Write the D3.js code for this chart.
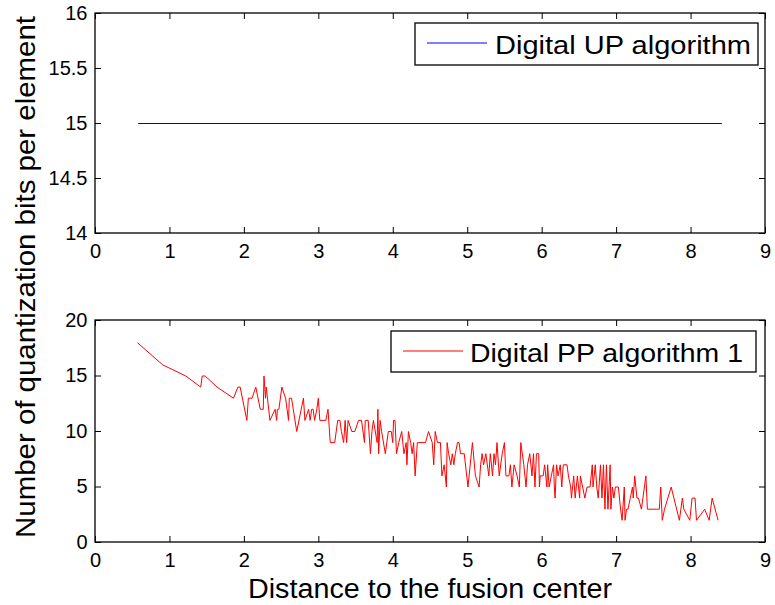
<!DOCTYPE html>
<html>
<head>
<meta charset="utf-8">
<script src="https://cdn.jsdelivr.net/npm/d3@7"></script>
<style>
  body { margin: 0; background: #fff; }
  svg text { font-family: "Liberation Sans", Arial, sans-serif; fill: #000; }
</style>
</head>
<body>
<div id="vis"></div>
<script>
'use strict'

// x ticks shared by both panels
const xTicks = [0, 1, 2, 3, 4, 5, 6, 7, 8, 9]
const upTicks = [14, 14.5, 15, 15.5, 16]
const ppTicks = [0, 5, 10, 15, 20]

// Digital UP algorithm: constant 15 bits
const upDist = [0.58, 8.42]
const upBits = [15, 15]

// Digital PP algorithm 1
const ppDist = [
  0.57, 0.91, 1.22, 1.42, 1.44, 1.48, 1.64, 1.86, 1.92, 1.95,
  2.04, 2.06, 2.11, 2.16, 2.22, 2.26, 2.27, 2.29, 2.30, 2.35,
  2.42, 2.44, 2.45, 2.47, 2.51, 2.56, 2.60, 2.61, 2.64, 2.71,
  2.80, 2.82, 2.87, 2.89, 2.91, 2.93, 2.95, 2.98, 3.00, 3.02,
  3.10, 3.13, 3.16, 3.22, 3.26, 3.29, 3.31, 3.34, 3.36, 3.38,
  3.40, 3.45, 3.49, 3.54, 3.58, 3.62, 3.63, 3.67, 3.70, 3.72,
  3.74, 3.79, 3.80, 3.81, 3.83, 3.85, 3.90, 3.94, 3.98, 4.00,
  4.01, 4.03, 4.05, 4.08, 4.12, 4.15, 4.18, 4.19, 4.21, 4.24,
  4.26, 4.28, 4.30, 4.33, 4.35, 4.44, 4.48, 4.53, 4.55, 4.57,
  4.60, 4.64, 4.66, 4.69, 4.72, 4.73, 4.75, 4.78, 4.80, 4.82,
  4.84, 4.87, 4.89, 4.91, 4.96, 5.01, 5.07, 5.11, 5.16, 5.18,
  5.20, 5.22, 5.25, 5.29, 5.31, 5.34, 5.36, 5.38, 5.40, 5.43,
  5.47, 5.50, 5.52, 5.56, 5.58, 5.60, 5.63, 5.67, 5.70, 5.72,
  5.76, 5.79, 5.81, 5.84, 5.87, 5.89, 5.91, 5.93, 5.96, 5.97,
  5.98, 6.02, 6.04, 6.07, 6.08, 6.10, 6.13, 6.16, 6.17, 6.18,
  6.20, 6.22, 6.25, 6.27, 6.29, 6.34, 6.36, 6.39, 6.40, 6.43,
  6.45, 6.48, 6.51, 6.52, 6.55, 6.58, 6.61, 6.65, 6.68, 6.69,
  6.72, 6.74, 6.76, 6.79, 6.81, 6.83, 6.85, 6.87, 6.89, 6.92,
  6.93, 6.95, 6.97, 6.99, 7.03, 7.06, 7.08, 7.11, 7.12, 7.14,
  7.16, 7.19, 7.22, 7.23, 7.25, 7.28, 7.30, 7.34, 7.40, 7.42,
  7.54, 7.58, 7.60, 7.62, 7.65, 7.74, 7.85, 7.89, 7.91, 7.99,
  8.02, 8.06, 8.08, 8.19, 8.25, 8.29, 8.37
]
const ppBits = [
  18, 16, 15, 14, 15, 15, 14, 13, 14, 14,
  11, 13, 13, 14, 12, 12, 15, 13, 14, 11,
  12, 11, 12, 12, 14, 13, 11, 13, 13, 10,
  13, 11, 12, 11, 12, 12, 11, 12, 13, 11,
  11, 12, 9, 9, 11, 11, 10, 9, 11, 9,
  11, 10, 10, 11, 11, 9, 11, 11, 8, 10,
  11, 9, 12, 8, 11, 10, 8, 10, 10, 9,
  11, 11, 8, 9, 10, 8, 9, 7, 10, 9,
  8, 9, 6, 9, 9, 9, 10, 9, 7, 10,
  9, 9, 6, 7, 5, 9, 8, 7, 8, 7,
  8, 9, 9, 8, 8, 5, 9, 6, 5, 7,
  8, 7, 8, 6, 8, 6, 8, 7, 9, 6,
  8, 9, 6, 6, 7, 5, 7, 6, 5, 9,
  7, 5, 7, 8, 6, 8, 5, 8, 8, 5,
  6, 6, 7, 5, 7, 5, 6, 7, 5, 4,
  7, 6, 7, 5, 7, 7, 6, 5, 4, 6,
  4, 6, 4, 6, 5, 4, 5, 5, 7, 5,
  7, 5, 4, 7, 4, 7, 3, 7, 3, 7,
  3, 5, 4, 5, 5, 3, 2, 5, 2, 3,
  3, 4, 5, 4, 6, 4, 4, 3, 6, 3,
  3, 3, 5, 2, 3, 5, 2, 4, 3, 2,
  4, 4, 2, 3, 2, 4, 2
]

const labels = {
  up: "Digital UP algorithm",
  pp: "Digital PP algorithm 1",
  xTitle: "Distance to the fusion center",
  yTitle: "Number of quantization bits per element"
}

function wrapper(){
  const width = 775
  const height = 605
  const left = 95, right = 765

  const svg = d3.select("#vis").append("svg")
    .attr("width", width)
    .attr("height", height)

  const x = d3.scaleLinear().domain([0, 9]).range([left, right])
  const fmt = d3.format("~g")

  function panel(top, bottom, yDomain, yTicks, dist, bits, color, lineColor, legend){
    const y = d3.scaleLinear().domain(yDomain).range([bottom, top])
    const g = svg.append("g")

    // data line first, so the frame sits on top
    const line = d3.line()
      .x((d, i) => x(dist[i]))
      .y(d => y(d))
    g.append("path")
      .datum(bits)
      .attr("transform", "translate(0,0.5)")
      .attr("fill", "none")
      .attr("stroke", lineColor)
      .attr("stroke-width", 1)
      .attr("d", line)

    const bottomAxis = g.append("g")
      .attr("transform", "translate(0," + bottom + ")")
      .call(d3.axisBottom(x).tickValues(xTicks).tickSize(-6).tickPadding(11).tickFormat(fmt))
    const topAxis = g.append("g")
      .attr("transform", "translate(0," + top + ")")
      .call(d3.axisTop(x).tickValues(xTicks).tickSize(-6).tickFormat(""))
    const leftAxis = g.append("g")
      .attr("transform", "translate(" + left + ",0)")
      .call(d3.axisLeft(y).tickValues(yTicks).tickSize(-6).tickPadding(7.5).tickFormat(fmt))
    const rightAxis = g.append("g")
      .attr("transform", "translate(" + right + ",0)")
      .call(d3.axisRight(y).tickValues(yTicks).tickSize(-6).tickFormat(""))

    ;[bottomAxis, topAxis, leftAxis, rightAxis].forEach(function(a){
      a.select(".domain").remove()
      a.selectAll(".tick line").attr("stroke", "#000").attr("stroke-width", 1)
      a.selectAll("text")
        .style("font-size", "20px")
        .style("font-family", "'Liberation Sans', Arial, sans-serif")
    })

    g.append("rect")
      .attr("x", left).attr("y", top)
      .attr("width", right - left).attr("height", bottom - top)
      .attr("fill", "none")
      .attr("stroke", "#000")
      .attr("stroke-width", 1.3)

    // legend box
    const lg = g.append("g")
    lg.append("rect")
      .attr("x", legend.x0).attr("y", legend.y0)
      .attr("width", legend.x1 - legend.x0).attr("height", legend.y1 - legend.y0)
      .attr("fill", "#fff")
      .attr("stroke", "#000")
      .attr("stroke-width", 1.3)
    lg.append("line")
      .attr("x1", legend.x0 + 12).attr("x2", legend.x0 + 72)
      .attr("y1", legend.ly).attr("y2", legend.ly)
      .attr("stroke", color)
      .attr("stroke-width", 1.2)
    lg.append("text")
      .attr("x", legend.tx)
      .attr("y", legend.ty)
      .attr("textLength", legend.tw)
      .attr("lengthAdjust", "spacingAndGlyphs")
      .style("font-size", "26px")
      .text(legend.text)
  }

  panel(13, 233, [14, 16], upTicks, upDist, upBits, "#0000ff", "#0a0a80",
    {x0: 415, x1: 758, y0: 23, y1: 65, ly: 43, tx: 495, ty: 53.5, tw: 256, text: labels.up})
  panel(320, 542, [0, 20], ppTicks, ppDist, ppBits, "#ff0000", "#ff0000",
    {x0: 391, x1: 756, y0: 331, y1: 372, ly: 351, tx: 470, ty: 361.5, tw: 273, text: labels.pp})

  svg.append("text")
    .attr("x", (left + right) / 2)
    .attr("y", 598)
    .attr("text-anchor", "middle")
    .attr("textLength", 364)
    .attr("lengthAdjust", "spacingAndGlyphs")
    .style("font-size", "27px")
    .text(labels.xTitle)

  svg.append("text")
    .attr("transform", "translate(35,277) rotate(-90)")
    .attr("text-anchor", "middle")
    .attr("textLength", 522)
    .attr("lengthAdjust", "spacingAndGlyphs")
    .style("font-size", "28px")
    .text(labels.yTitle)
}

wrapper()
</script>
</body>
</html>
